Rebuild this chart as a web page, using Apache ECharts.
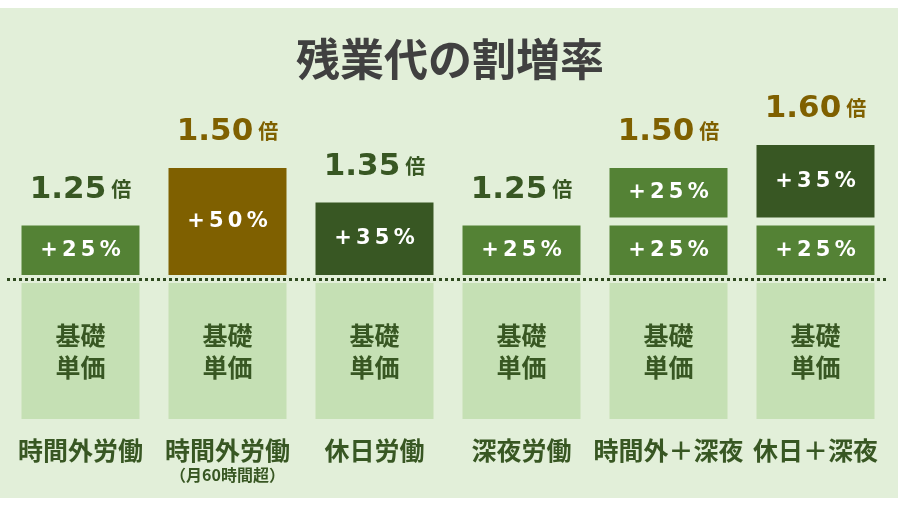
<!DOCTYPE html>
<html>
<head>
<meta charset="utf-8">
<script src="https://cdn.jsdelivr.net/npm/echarts@6/dist/echarts.min.js"></script>
<style>
  html, body { margin: 0; padding: 0; background: #fff; }
  #main { width: 900px; height: 506px; }
</style>
</head>
<body>
<div id="main"></div>
<script>
var dom = document.getElementById('main');
var myChart = echarts.init(dom, null, { renderer: 'canvas' });

// data
const categories = ['時間外労働', '時間外労働', '休日労働', '深夜労働', '時間外＋深夜', '休日＋深夜'];
const subLabels = ['', '（月60時間超）', '', '', '', ''];
const baseValue = [1, 1, 1, 1, 1, 1];
const premiumLower = [25, 50, 35, 25, 25, 25];
const premiumUpper = ['-', '-', '-', '-', 25, 35];
const rates = [1.25, 1.50, 1.35, 1.25, 1.50, 1.60];

// styles
const bg = '#e2efd9';
const green = '#548235';
const darkGreen = '#385723';
const brown = '#7f6000';
const textGreen = '#385723';
const segColor = v => (v >= 50 ? brown : v >= 35 ? darkGreen : green);
const spaced = s => s.split('').join('\u2009');

const segLabel = {
  show: true,
  position: 'inside',
  color: '#fff',
  fontFamily: 'DejaVu Sans',
  fontWeight: 'bold',
  fontSize: 21,
  formatter: p => spaced('+' + p.value + '%')
};

const numStyle = (c) => ({ fontFamily: 'DejaVu Sans', fontWeight: 'bold', fontSize: 31, color: c, lineHeight: 32, verticalAlign: 'bottom' });
const unitStyle = (c) => ({ fontFamily: 'Noto Sans CJK JP', fontWeight: 'bold', fontSize: 20, color: c, lineHeight: 22, verticalAlign: 'bottom', padding: [0, 0, 6, 5] });

var option = {
  backgroundColor: '#fff',
  animation: false,
  graphic: [
    { type: 'rect', z: -10, silent: true, shape: { x: 0, y: 8, width: 898, height: 490 }, style: { fill: bg } }
  ],
  title: {
    text: '残業代の割増率',
    left: 'center',
    top: 32,
    textStyle: { fontFamily: 'Noto Sans CJK JP', fontWeight: 'bold', fontSize: 44, color: '#404040' }
  },
  grid: [
    { left: 7, right: 11, top: 49, bottom: 227 },
    { left: 7, right: 11, top: 283, bottom: 87 }
  ],
  xAxis: [
    { type: 'category', gridIndex: 0, data: categories, show: false },
    {
      type: 'category',
      gridIndex: 1,
      data: categories,
      axisLine: { show: false },
      axisTick: { show: false },
      axisLabel: {
        interval: 0,
        margin: 17,
        formatter: (v, i) => '{a|' + v + '}' + (subLabels[i] ? '\n{b|' + subLabels[i] + '}' : ''),
        rich: {
          a: { fontFamily: 'Noto Sans CJK JP', fontWeight: 'bold', fontSize: 25, color: textGreen, lineHeight: 28 },
          b: { fontFamily: 'Noto Sans CJK JP', fontWeight: 'bold', fontSize: 16, color: textGreen, lineHeight: 22 }
        }
      }
    }
  ],
  yAxis: [
    { type: 'value', gridIndex: 0, min: 0, max: 100, show: false },
    { type: 'value', gridIndex: 1, min: 0, max: 1, show: false }
  ],
  series: [
    {
      name: '割増1',
      type: 'bar',
      stack: 'p',
      xAxisIndex: 0,
      yAxisIndex: 0,
      barWidth: 126,
      silent: true,
      data: premiumLower.map(v => ({ value: v, itemStyle: { color: segColor(v) } })),
      itemStyle: { borderColor: bg, borderWidth: 4 },
      label: segLabel,
      markLine: {
        silent: true,
        symbol: 'none',
        label: { show: false },
        lineStyle: { color: '#2f4a1f', width: 3, type: [3, 3] },
        data: [{ yAxis: 0 }]
      }
    },
    {
      name: '割増2',
      type: 'bar',
      stack: 'p',
      xAxisIndex: 0,
      yAxisIndex: 0,
      barWidth: 126,
      silent: true,
      data: premiumUpper.map(v => (v === '-' ? '-' : { value: v, itemStyle: { color: segColor(v) } })),
      itemStyle: { borderColor: bg, borderWidth: 4 },
      label: segLabel
    },
    {
      name: '倍率',
      type: 'scatter',
      xAxisIndex: 0,
      yAxisIndex: 0,
      silent: true,
      symbolSize: 1,
      itemStyle: { color: 'rgba(0,0,0,0)', opacity: 1 },
      data: rates.map(r => Math.round((r - 1) * 100)),
      label: {
        show: true,
        position: 'top',
        distance: 16,
        formatter: p => {
          const r = rates[p.dataIndex];
          const k = r >= 1.5 ? 'b' : 'g';
          return '{' + k + '|' + r.toFixed(2) + '}{' + k + 'u|倍}';
        },
        rich: {
          g: numStyle(textGreen),
          gu: unitStyle(textGreen),
          b: numStyle(brown),
          bu: unitStyle(brown)
        }
      }
    },
    {
      name: '基礎単価',
      type: 'bar',
      xAxisIndex: 1,
      yAxisIndex: 1,
      barWidth: 118,
      silent: true,
      data: baseValue,
      itemStyle: { color: '#c5e0b4' },
      label: {
        show: true,
        position: 'inside',
        formatter: '基礎\n単価',
        fontFamily: 'Noto Sans CJK JP',
        fontWeight: 'bold',
        fontSize: 25,
        lineHeight: 32,
        color: textGreen
      }
    }
  ]
};

if (option && typeof option === 'object') {
  myChart.setOption(option);
}

window.addEventListener('resize', myChart.resize);
</script>
</body>
</html>
